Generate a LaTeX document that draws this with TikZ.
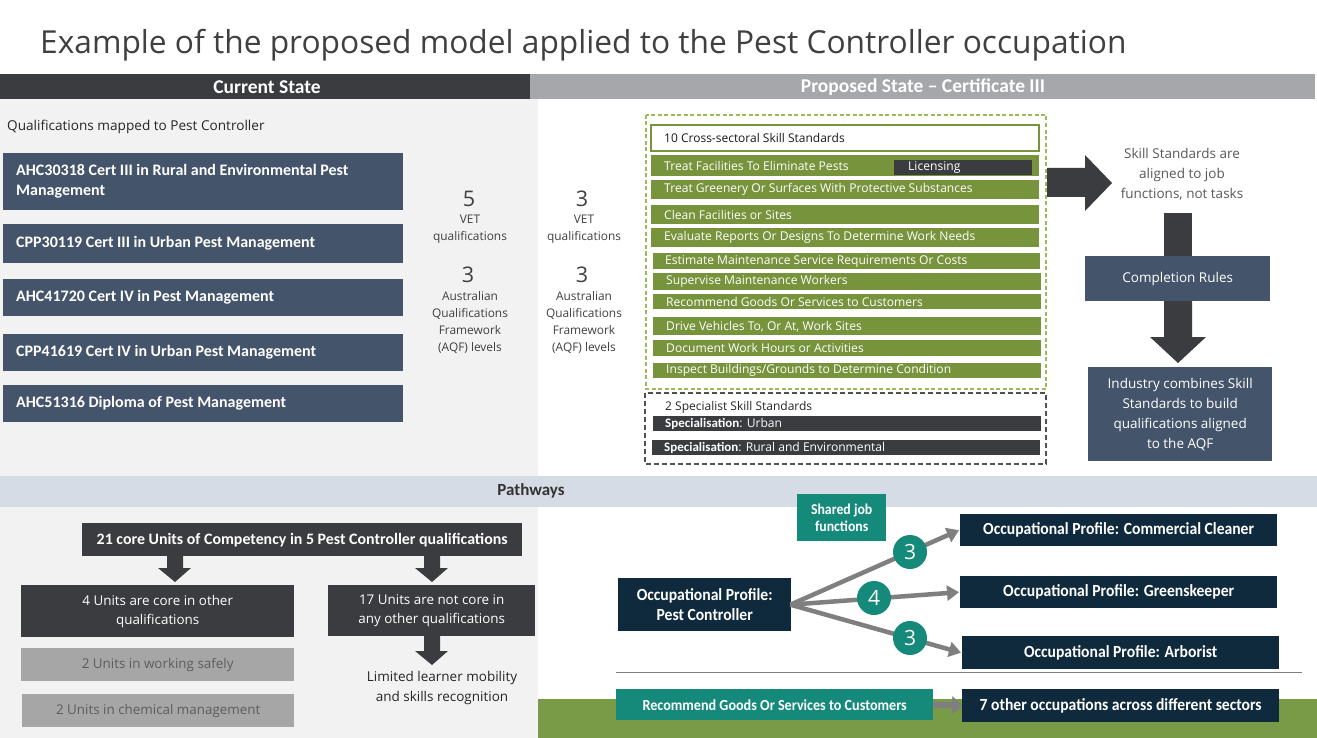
\documentclass[tikz,border=0pt]{standalone}
\usepackage{fontspec}
\setmainfont{Carlito}
\newfontfamily\cond{Carlito}[FakeStretch=0.92]
\newfontfamily\seg{Open Sans}
\usetikzlibrary{arrows.meta}
\definecolor{darkbar}{HTML}{3B3C40}
\definecolor{headgray}{HTML}{A5A7AA}
\definecolor{panel}{HTML}{F2F2F2}
\definecolor{slate}{HTML}{44546A}
\definecolor{leaf}{HTML}{77933C}
\definecolor{leafdash}{HTML}{9BBB59}
\definecolor{grass}{HTML}{799A46}
\definecolor{navy}{HTML}{0E2A3C}
\definecolor{teal}{HTML}{168A7A}
\definecolor{pathbar}{HTML}{D6DCE5}
\definecolor{midgray}{HTML}{A6A6A6}
\definecolor{txtgray}{HTML}{404040}
\definecolor{arrgray}{HTML}{7F7F7F}
\newcommand\fsz[2]{\fontsize{#1}{#2}\selectfont}
% box: name, style, x1, y1, x2, y2, text
\newcommand\rbox[7]{\node[#2, anchor=north west, inner sep=0pt, minimum width={(#5-#3)*1pt}, minimum height={(#6-#4)*1pt}] (#1) at (#3,#4) {#7};}
% left-aligned box: name, style, x1, y1, x2, y2, text style, text, indent
\newcommand\lbox[9]{\node[#2, anchor=north west, inner sep=0pt, minimum width={(#5-#3)*1pt}, minimum height={(#6-#4)*1pt}] (#1) at (#3,#4) {};
  \node[#7, anchor=west, inner sep=0pt, align=left] (#1t) at ([xshift=#9pt]#1.west) {#8};}
\begin{document}
\begin{tikzpicture}[x=1pt,y=-1pt,
  hdr/.style={text=white, font=\fsz{19.5}{22}\bfseries},
  qual/.style={fill=slate},
  qualtxt/.style={text=white, font=\fsz{16}{20}\bfseries},
  midnum/.style={text=txtgray, font=\seg\fsz{21.5}{24}},
  midtxt/.style={text=txtgray, font=\seg\fsz{11.9}{17}, align=center},
  gbar/.style={fill=leaf},
  gtxt/.style={text=white, font=\seg\fsz{12.1}{15}},
  dbar/.style={fill=darkbar},
  bluebox/.style={fill=slate, text=white, font=\seg\fsz{13.5}{20}, align=center},
  darkbox/.style={fill=darkbar, text=white, font=\seg\fsz{13.4}{19}, align=center},
  lightbox/.style={fill=midgray, text=txtgray!85, font=\seg\fsz{13.4}{17}, align=center},
  prof/.style={fill=navy, text=white, font=\cond\fsz{17}{20}\bfseries, align=center},
  tealbox/.style={fill=teal, text=white, font=\cond\fsz{15.4}{17}\bfseries, align=center},
  num/.style={circle, fill=teal, text=white, font=\seg\fsz{21}{24}, minimum size=34pt, inner sep=0pt},
  garrow/.style={draw=arrgray, line width=4.5pt, -{Triangle[length=12pt,width=15pt]}},
]
\useasboundingbox (0,0) rectangle (1317,738);
\fill[white] (0,0) rectangle (1317,738);
% backgrounds
\fill[panel] (0,99) rectangle (538,476);
\fill[panel] (0,507) rectangle (538,738);
\fill[grass] (538,699) rectangle (1317,738);
\fill[darkbar] (0,74) rectangle (530,99);
\fill[headgray] (530,74) rectangle (1315,99);
\fill[pathbar] (0,476) rectangle (1317,507);
% title
\node[anchor=base west, inner sep=0pt, text=txtgray, font=\seg\fsz{31.7}{36}] (title) at (40,54) {Example of the proposed model applied to the Pest Controller occupation};
\node[hdr] (cur) at (267,87) {Current State};
\node[hdr] (prop) at (923,87) {Proposed State -- Certificate III};
\node[anchor=west, inner sep=0pt, text=black!85, font=\seg\fsz{13.6}{17}] (mapped) at (7,127) {Qualifications mapped to Pest Controller};
% qualification boxes
\lbox{q1}{qual}{3}{153}{403}{210}{qualtxt}{AHC30318 Cert III in Rural and Environmental Pest\\Management}{13}
\lbox{q2}{qual}{3}{224}{403}{263}{qualtxt}{CPP30119 Cert III in Urban Pest Management}{13}
\lbox{q3}{qual}{3}{279}{403}{316}{qualtxt}{AHC41720 Cert IV in Pest Management}{13}
\lbox{q4}{qual}{3}{334}{403}{371}{qualtxt}{CPP41619 Cert IV in Urban Pest Management}{13}
\lbox{q5}{qual}{3}{385}{403}{422}{qualtxt}{AHC51316 Diploma of Pest Management}{13}
% middle numbers
\node[midnum] (a5) at (469,199) {5};
\node[midtxt] (a5t) at (470,229) {VET\\qualifications};
\node[midnum] (a3) at (468,275) {3};
\node[midtxt] (a3t) at (470,322.5) {Australian\\Qualifications\\Framework\\(AQF) levels};
\node[midnum] (b3) at (582,199) {3};
\node[midtxt] (b3t) at (584,229) {VET\\qualifications};
\node[midnum] (b3b) at (582,275) {3};
\node[midtxt] (b3bt) at (584,322.5) {Australian\\Qualifications\\Framework\\(AQF) levels};
% cross-sectoral group
\draw[leafdash, line width=1.8pt, dash pattern=on 4pt off 2.5pt] (646,115) rectangle (1046,389);
\draw[leaf, line width=1.6pt, fill=white] (651,125) rectangle (1039,151);
\node[anchor=west, inner sep=0pt, text=black!90, font=\seg\fsz{12}{15}] (cross) at (664,138) {10 Cross-sectoral Skill Standards};
\lbox{s1}{gbar}{651}{155}{1039}{176}{gtxt}{Treat Facilities To Eliminate Pests}{13}
\lbox{lic}{dbar}{894}{160}{1032}{175}{gtxt}{Licensing}{14}
\lbox{s2}{gbar}{651}{180}{1039}{199}{gtxt}{Treat Greenery Or Surfaces With Protective Substances}{13}
\lbox{s3}{gbar}{651}{205}{1039}{224}{gtxt}{Clean Facilities or Sites}{13}
\lbox{s4}{gbar}{651}{228}{1039}{247}{gtxt}{Evaluate Reports Or Designs To Determine Work Needs}{13}
\lbox{s5}{gbar}{653}{253}{1040}{269}{gtxt}{Estimate Maintenance Service Requirements Or Costs}{12}
\lbox{s6}{gbar}{653}{273}{1041}{290}{gtxt}{Supervise Maintenance Workers}{13}
\lbox{s7}{gbar}{653}{294}{1041}{309}{gtxt}{Recommend Goods Or Services to Customers}{13}
\lbox{s8}{gbar}{653}{317}{1041}{335}{gtxt}{Drive Vehicles To, Or At, Work Sites}{13}
\lbox{s9}{gbar}{653}{340}{1041}{356}{gtxt}{Document Work Hours or Activities}{13}
\lbox{s10}{gbar}{653}{363}{1041}{378}{gtxt}{Inspect Buildings/Grounds to Determine Condition}{13}
% specialist group
\draw[darkbar!90, line width=1.5pt, dash pattern=on 5pt off 3pt] (645,393) rectangle (1046,464);
\node[anchor=west, inner sep=0pt, text=black!85, font=\seg\fsz{12}{15}] (spec) at (665,407) {2 Specialist Skill Standards};
\lbox{sp1}{dbar}{653}{416}{1041}{431}{gtxt}{{\rmfamily\fsz{13}{15}\bfseries Specialisation}: Urban}{12}
\lbox{sp2}{dbar}{652}{440}{1040}{455}{gtxt}{{\rmfamily\fsz{13}{15}\bfseries Specialisation}: Rural and Environmental}{12}
% right column
\fill[darkbar] (1047,168) -- (1085,168) -- (1085,155) -- (1112,183) -- (1085,211) -- (1085,197) -- (1047,197) -- cycle;
\node[text=black!65, font=\seg\fsz{13.5}{20}, align=center] (aligned) at (1182,174) {Skill Standards are\\aligned to job\\functions, not tasks};
\fill[darkbar] (1164,213) rectangle (1192,258);
\rbox{comp}{bluebox}{1085}{256}{1270}{301}{Completion Rules}
\fill[darkbar] (1164,301) -- (1192,301) -- (1192,337) -- (1206,337) -- (1178,363) -- (1150,337) -- (1164,337) -- cycle;
\rbox{ind}{bluebox}{1088}{367}{1272}{461}{Industry combines Skill\\Standards to build\\qualifications aligned\\to the AQF}
% pathways
\node[text=black!80, font=\fsz{17}{18}\bfseries] (path) at (531,491) {Pathways};
\rbox{core}{darkbox, font=\fsz{15.9}{17}\bfseries}{82}{523}{522}{556}{21 core Units of Competency in 5 Pest Controller qualifications}
\fill[darkbar] (167,556) -- (183,556) -- (183,568) -- (191,568) -- (175,582) -- (158,568) -- (167,568) -- cycle;
\fill[darkbar] (424,556) -- (440,556) -- (440,568) -- (448,568) -- (432,582) -- (415,568) -- (424,568) -- cycle;
\rbox{four}{darkbox}{21}{585}{294}{637}{4 Units are core in other\\qualifications}
\rbox{seventeen}{darkbox}{328}{585}{535}{636}{17 Units are not core in\\any other qualifications}
\fill[darkbar] (424,636) -- (440,636) -- (440,651) -- (448,651) -- (432,665) -- (415,651) -- (424,651) -- cycle;
\rbox{safe}{lightbox}{21}{648}{294}{681}{2 Units in working safely}
\rbox{chem}{lightbox}{22}{694}{294}{727}{2 Units in chemical management}
\node[text=black!85, font=\seg\fsz{13.5}{20}, align=center] (limited) at (442,688) {Limited learner mobility\\and skills recognition};
% occupational profiles
\rbox{shared}{tealbox, font=\cond\fsz{15}{17}\bfseries}{797}{494}{886}{541}{Shared job\\functions}
\rbox{pc}{prof}{618}{578}{791}{631}{Occupational Profile:\\Pest Controller}
\rbox{cc}{prof}{960}{514}{1277}{546}{Occupational Profile: Commercial Cleaner}
\rbox{gk}{prof}{960}{576}{1277}{608}{Occupational Profile: Greenskeeper}
\rbox{ar}{prof}{962}{636}{1279}{669}{Occupational Profile: Arborist}
\coordinate (pcout) at ([xshift=-1pt]pc.east);
\draw[garrow] (pcout) -- ([xshift=-1pt]cc.west);
\draw[garrow] (pcout) -- ([xshift=-1pt]gk.west);
\draw[garrow] (pcout) -- ([xshift=-1pt]ar.west);
\node[num] (n1) at (910,552) {3};
\node[num] (n2) at (874,598) {4};
\node[num] (n3) at (910,638) {3};
\draw[arrgray, line width=1pt] (616,672) -- (1302,672);
\rbox{rec}{tealbox}{616}{689}{933}{720}{Recommend Goods Or Services to Customers}
\rbox{other}{prof}{962}{689}{1279}{722}{7 other occupations across different sectors}
\draw[draw=arrgray, line width=6pt, -{Triangle[length=10pt,width=18pt]}] (rec.east) -- (other.west);
\end{tikzpicture}
\end{document}
